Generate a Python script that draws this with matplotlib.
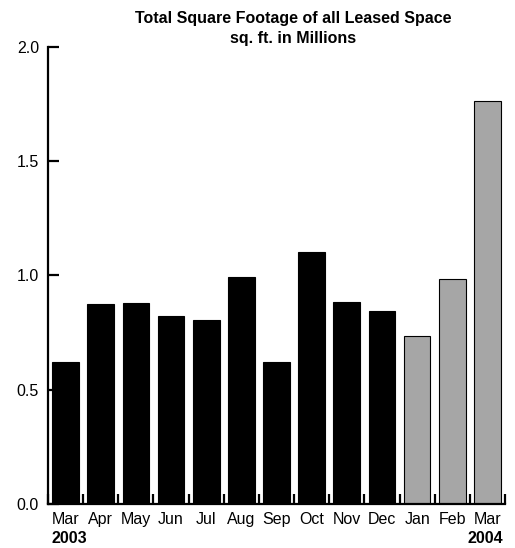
import matplotlib
matplotlib.use("Agg")
import matplotlib.pyplot as plt
import numpy as np

months = ["Mar", "Apr", "May", "Jun", "Jul", "Aug", "Sep", "Oct", "Nov", "Dec", "Jan", "Feb", "Mar"]
values = [0.623, 0.873, 0.879, 0.824, 0.805, 0.991, 0.623, 1.103, 0.882, 0.844, 0.734, 0.985, 1.764]
year_labels = ["2003", "2004"]
n_2003 = 10
yticks = [0.0, 0.5, 1.0, 1.5, 2.0]

plt.rcParams['font.family'] = ['Liberation Sans', 'DejaVu Sans']

fig = plt.figure(figsize=(5.15, 5.48), dpi=100)
ax = fig.add_axes([48/515, 1-504/548, (505-48)/515, (504-46.7)/548])

x = np.arange(len(months))
colors = ['black'] * n_2003 + ['#a6a6a6'] * (len(months) - n_2003)
ax.bar(x, values, width=0.76, color=colors, edgecolor='black', linewidth=0.8)

ax.set_xlim(-0.5, len(months) - 0.5)
ax.set_ylim(0, 2.0)
ax.set_yticks(yticks)
ax.set_yticklabels([f"{v:.1f}" for v in yticks])
ax.set_xticks(x)
ax.set_xticklabels(months)
ax.set_xticks(np.arange(len(months) + 1) - 0.5, minor=True)

for s in ['top', 'right']:
    ax.spines[s].set_visible(False)
for s in ['left', 'bottom']:
    ax.spines[s].set_linewidth(1.6)

ax.tick_params(axis='y', direction='in', length=8, width=1.6, labelsize=11.5, pad=6.5, colors='black')
ax.tick_params(axis='x', which='major', length=0, labelsize=11.5, pad=5.5)
ax.tick_params(axis='x', which='minor', direction='in', length=7.5, width=1.6)

fig.text(52/515, 2/548, year_labels[0], ha='left', va='bottom', fontsize=11.5, fontweight='bold')
fig.text(503/515, 2/548, year_labels[1], ha='right', va='bottom', fontsize=11.5, fontweight='bold')

fig.text(293/515, 1-19/548, "Total Square Footage of all Leased Space", ha='center', va='center',
         fontsize=11.5, fontweight='bold')
fig.text(293/515, 1-38.5/548, "sq. ft. in Millions", ha='center', va='center',
         fontsize=11.5, fontweight='bold')

fig.savefig("out.png", dpi=100)
